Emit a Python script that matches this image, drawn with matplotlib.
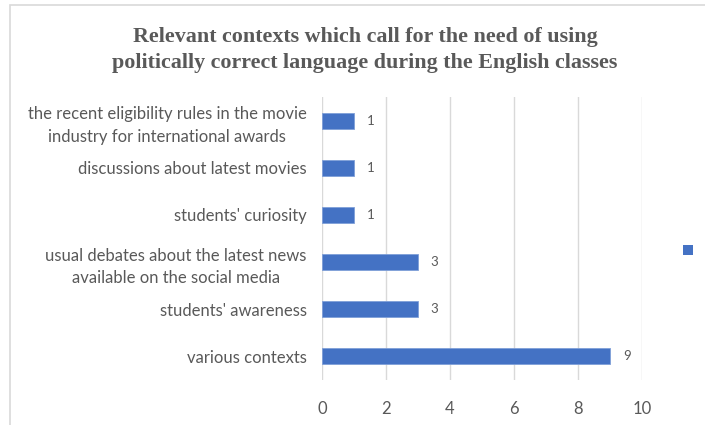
import matplotlib.pyplot as plt
from matplotlib.patches import Rectangle, Patch

# categories listed top to bottom
categories = [
    "the recent eligibility rules in the movie\nindustry for international awards",
    "discussions about latest movies",
    "students' curiosity",
    "usual debates about the latest news\navailable on the social media",
    "students' awareness",
    "various contexts",
]
counts = [1, 1, 1, 3, 3, 9]
xticks = [0, 2, 4, 6, 8, 10]

bar_color = "#4472C4"
text_color = "#595959"
grid_color = "#D9D9D9"

fig = plt.figure(figsize=(7.05, 4.25), dpi=100)
fig.patches.append(Rectangle((10 / 705, -0.1), 1.0, 1 - 5 / 425 + 0.1,
                             transform=fig.transFigure, fill=False,
                             edgecolor="#D9D9D9", linewidth=1.2))

ax = fig.add_axes([322 / 705, 45 / 425, 320 / 705, 283 / 425])
ypos = list(range(len(categories)))[::-1]
bars = ax.barh(ypos, counts, height=0.34, color=bar_color,
               edgecolor="#7F9FD8", linewidth=0.6, zorder=3)

for y, v in zip(ypos, counts):
    ax.text(v + 0.4, y, str(v), va="center", ha="left", fontsize=9.5,
            color=text_color, family="Lato")

ax.set_xlim(0, 10)
ax.set_ylim(-0.5, len(categories) - 0.5)
ax.set_xticks(xticks)
ax.set_xticklabels([str(t) for t in xticks], fontsize=12, color=text_color,
                   family="Lato")
ax.set_yticks(ypos)
ax.set_yticklabels(categories, fontsize=12, color=text_color, family="Lato",
                   multialignment="center", linespacing=1.5)
ax.tick_params(axis="both", length=0)
ax.tick_params(axis="y", pad=11)
ax.tick_params(axis="x", pad=15)
ax.grid(axis="x", color=grid_color, linewidth=1, zorder=0)
for s in ax.spines.values():
    s.set_visible(False)

fig.text(365 / 705, 1 - 50 / 425,
         "Relevant contexts which call for the need of using\n"
         "politically correct language during the English classes",
         ha="center", va="center", fontsize=15.8, fontweight="bold",
         color=text_color, family="Liberation Serif", linespacing=1.35)

fig.legend([Patch(facecolor=bar_color)], [""],
           loc="center", bbox_to_anchor=(688 / 705, 1 - 251 / 425),
           frameon=False, handlelength=0.7, handleheight=0.7,
           handletextpad=0, borderpad=0)

fig.savefig("out.png", dpi=100)
